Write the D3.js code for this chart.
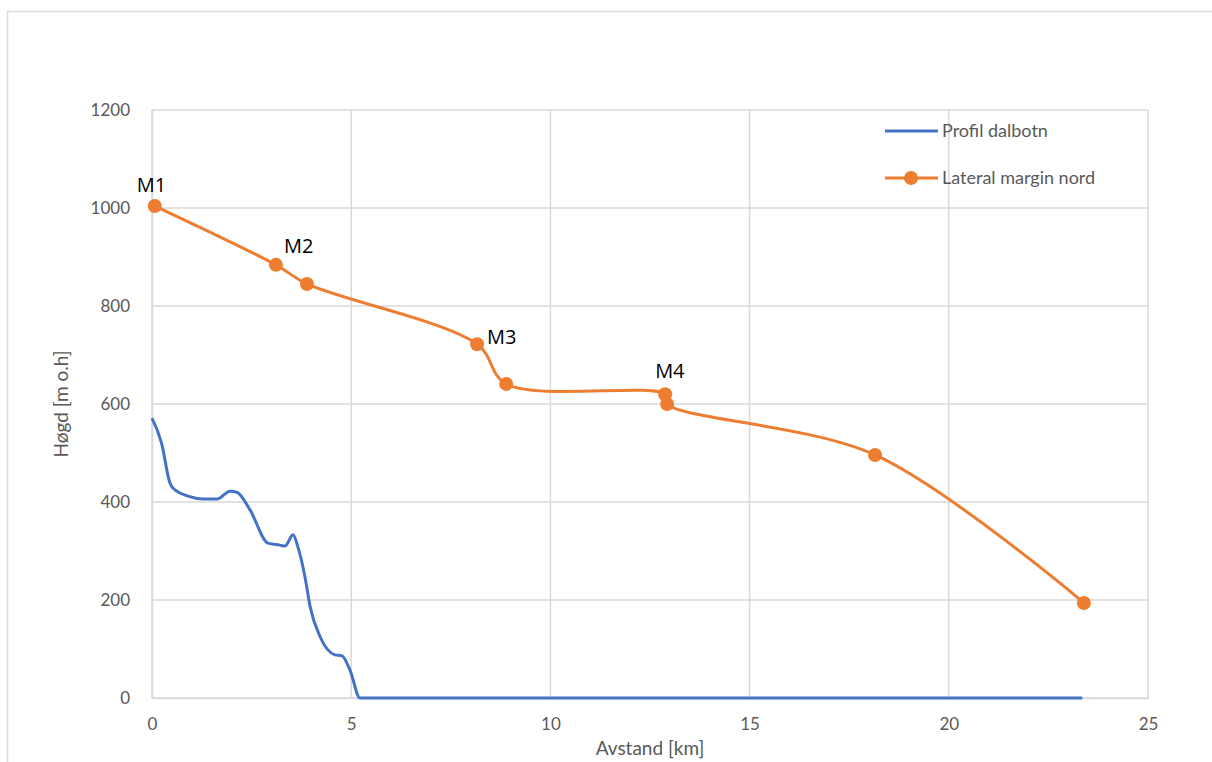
<!DOCTYPE html>
<html><head><meta charset="utf-8">
<script src="https://cdn.jsdelivr.net/npm/d3@7"></script>
<style>body{margin:0;background:#fff;}svg{display:block;font-family:Lato,"Open Sans",sans-serif;}</style>
</head><body><svg id="c" width="1212" height="762"></svg>
<script>
const xTicks = [0,5,10,15,20,25];
const yTicks = [0,200,400,600,800,1000,1200];
const profilX = [0,0.24,0.45,0.53,0.95,1.28,1.63,1.96,2.13,2.46,2.91,3.21,3.34,3.54,3.66,3.84,3.97,4.22,4.59,4.77,4.97,5.22,10,15,20,23.35];
const profilY = [571,520,439,428,411,406,406,422,420,384,316,312,310,333,309,247,186,125,88,86,57,0,0,0,0,0];
const marginX = [0.07,3.11,3.89,8.16,8.89,12.88,12.93,18.15,23.39];
const marginY = [1004,884,845,722,641,620,600,496,194];
const markLabels = ["M1","M2","","M3","","M4","","",""];
const seriesNames = ["Profil dalbotn","Lateral margin nord"];

const svg = d3.select("#c");
const L=152,R=1148,T=110,B=698;
const x = d3.scaleLinear().domain([0,25]).range([L,R]);
const y = d3.scaleLinear().domain([0,1200]).range([B,T]);
const grid="#d9d9d9", txt="#595959", blue="#4472C4", orange="#ED7D31";

svg.append("rect").attr("x",7.5).attr("y",11.5).attr("width",1220).attr("height",780)
  .attr("fill","none").attr("stroke",grid).attr("stroke-width",1.5);

// gridlines
svg.append("g").selectAll("line").data(yTicks).join("line")
  .attr("x1",L).attr("x2",R).attr("y1",d=>y(d)).attr("y2",d=>y(d))
  .attr("stroke",grid).attr("stroke-width",1.5);
svg.append("g").selectAll("line").data(xTicks).join("line")
  .attr("y1",T).attr("y2",B).attr("x1",d=>x(d)).attr("x2",d=>x(d))
  .attr("stroke",grid).attr("stroke-width",1.5);

// axes via d3
const ya = svg.append("g").attr("transform",`translate(${L},0)`)
  .call(d3.axisLeft(y).tickValues(yTicks).tickFormat(d3.format("d")).tickSize(0).tickPadding(22));
const xa = svg.append("g").attr("transform",`translate(0,${B})`)
  .call(d3.axisBottom(x).tickValues(xTicks).tickFormat(d3.format("d")).tickSize(0).tickPadding(20));
[ya,xa].forEach(a=>{a.select(".domain").attr("stroke",grid).attr("stroke-width",1.5);
  a.selectAll("text").attr("fill",txt).attr("font-size",17).attr("font-family","Lato,'Open Sans',sans-serif");});

// axis titles
svg.append("text").attr("x",650).attr("y",755).attr("text-anchor","middle")
  .attr("fill",txt).attr("font-size",19).text("Avstand [km]");
svg.append("text").attr("transform","translate(68,404) rotate(-90)").attr("text-anchor","middle")
  .attr("fill",txt).attr("font-size",19).text("Høgd [m o.h]");

// lines
const prof = profilX.map((d,i)=>[d,profilY[i]]);
const marg = marginX.map((d,i)=>[d,marginY[i]]);
const lineP = d3.line().x(d=>x(d[0])).y(d=>y(d[1])).curve(d3.curveMonotoneX);
const lineM = d3.line().x(d=>x(d[0])).y(d=>y(d[1])).curve(d3.curveCatmullRom.alpha(0.5));
svg.append("path").datum(prof).attr("d",lineP).attr("fill","none").attr("stroke",blue).attr("stroke-width",3);
svg.append("path").datum(marg).attr("d",lineM).attr("fill","none").attr("stroke",orange).attr("stroke-width",3);
svg.append("g").selectAll("circle").data(marg).join("circle")
  .attr("cx",d=>x(d[0])).attr("cy",d=>y(d[1])).attr("r",7).attr("fill",orange);

// data labels
const offs = {M1:[-18,-14],M2:[8,-12],M3:[10,0],M4:[-10,-16]};
svg.append("g").selectAll("text").data(marg.map((d,i)=>[d,markLabels[i]]).filter(d=>d[1]))
  .join("text").attr("x",d=>x(d[0][0])+offs[d[1]][0]).attr("y",d=>y(d[0][1])+offs[d[1]][1])
  .attr("fill","#000").attr("font-size",20).attr("font-family","'Open Sans',sans-serif").text(d=>d[1]);

// legend
const lg = svg.append("g");
lg.append("line").attr("x1",885).attr("x2",938).attr("y1",131).attr("y2",131).attr("stroke",blue).attr("stroke-width",3);
lg.append("line").attr("x1",885).attr("x2",938).attr("y1",178).attr("y2",178).attr("stroke",orange).attr("stroke-width",3);
lg.append("circle").attr("cx",911).attr("cy",178).attr("r",7).attr("fill",orange);
lg.selectAll("text").data(seriesNames).join("text").attr("x",942).attr("y",(d,i)=>137+i*47)
  .attr("fill",txt).attr("font-size",18).text(d=>d);
</script></body></html>
